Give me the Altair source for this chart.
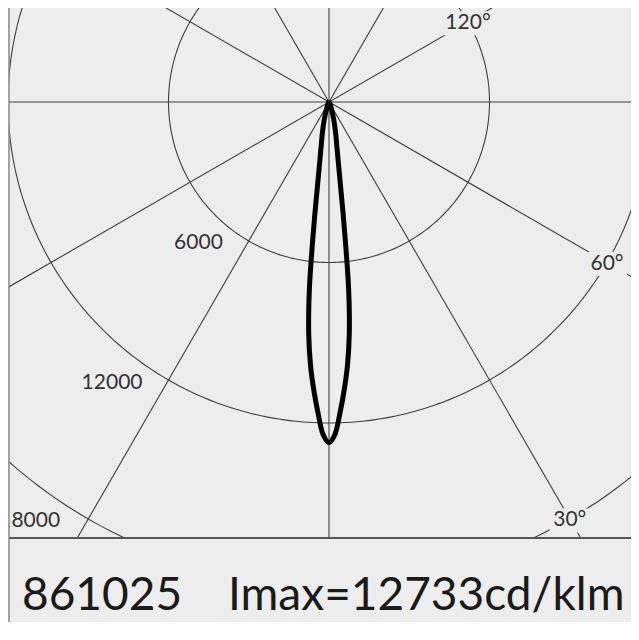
import altair as alt
import pandas as pd
import numpy as np

# ---- data ----
# luminous intensity (cd/klm) against angle from nadir (deg), symmetric beam
angles = [0, 1, 2, 3, 4, 5, 6, 7, 8, 9, 10, 12, 15, 20, 25, 30, 40, 50, 60, 90]
intensity = [12733, 12440, 11650, 10800, 9880, 8700, 7000, 4600, 2950, 2150,
             1700, 1200, 700, 250, 110, 60, 25, 12, 6, 0]

ring_values = [6000, 12000, 18000]
ring_labels = ["6000", "12000", "18000"]
ring_label_x = [-4880, -8110, -11190]
ring_label_y = [-5270, -10505, -15663]

ray_angles = [0, 30, 60, 90, 120, 150]

angle_labels = ["30°", "60°", "120°"]
angle_label_angles = [30, 60, 120]
angle_label_rings = [18000, 12000, 6000]
angle_box_halfwidth_px = [20, 20, 26]

footer_texts = ["861025", "Imax=12733cd/klm"]
footer_x_px = [13, 219]

# ---- geometry of the frame ----
W, H = 622, 530          # plot area in px
CX, CY = 320, 94         # pole position inside the plot area (px)
U = 6000 / 160.5         # cd per pixel
xdom = [-CX * U, (W - CX) * U]
ydom = [-(H - CY) * U, CY * U]
xs = alt.Scale(domain=xdom, nice=False, zero=False)
ys = alt.Scale(domain=ydom, nice=False, zero=False)

GRID = "#3f3f3f"
BG = "#ededed"

# curve (mirror both halves)
ang_full = [-a for a in angles[::-1]] + angles[1:]
int_full = intensity[::-1] + intensity[1:]
th = np.radians(ang_full)
curve = pd.DataFrame({
    "order": range(len(ang_full)),
    "x": np.array(int_full) * np.sin(th),
    "y": -np.array(int_full) * np.cos(th),
})

# rays
R = 40000
ra = np.radians(ray_angles)
rays = pd.DataFrame({
    "x": R * np.sin(ra), "y": -R * np.cos(ra),
    "x2": -R * np.sin(ra), "y2": R * np.cos(ra),
})

# rings
t = np.linspace(0, 2 * np.pi, 361)
rings = pd.concat([
    pd.DataFrame({"ring": r, "t": range(len(t)), "x": r * np.cos(t), "y": r * np.sin(t)})
    for r in ring_values
])

# angle labels
la = np.radians(angle_label_angles)
alab = pd.DataFrame({
    "text": angle_labels,
    "x": np.array(angle_label_rings) * np.sin(la),
    "y": -np.array(angle_label_rings) * np.cos(la) - 1.5 * U,
    "hw": np.array(angle_box_halfwidth_px) * U,
})
alab["x1"] = alab["x"] - alab["hw"]
alab["x2"] = alab["x"] + alab["hw"]
alab["y1"] = alab["y"] - 12 * U
alab["y2"] = alab["y"] + 12 * U

rlab = pd.DataFrame({"text": ring_labels, "x": ring_label_x, "y": ring_label_y})

footer = pd.DataFrame({"text": footer_texts, "px": footer_x_px})
one = pd.DataFrame({"a": [0]})

X = lambda f: alt.X(f, type="quantitative", scale=xs, axis=None)
Y = lambda f: alt.Y(f, type="quantitative", scale=ys, axis=None)

ray_layer = alt.Chart(rays).mark_rule(clip=True, color=GRID, strokeWidth=1.1).encode(
    x=X("x"), y=Y("y"), x2="x2", y2="y2")

ring_layer = alt.Chart(rings).mark_line(clip=True, color=GRID, strokeWidth=1.1).encode(
    x=X("x"), y=Y("y"), detail="ring:N", order="t:Q")

curve_layer = alt.Chart(curve).mark_line(
    clip=True, color="black", strokeWidth=5, strokeJoin="round",
    interpolate="catmull-rom").encode(
    x=X("x"), y=Y("y"), order="order:Q")

box_layer = alt.Chart(alab).mark_rect(fill=BG, clip=True).encode(
    x=X("x1"), x2="x2", y=Y("y1"), y2="y2")

alab_layer = alt.Chart(alab).mark_text(
    font="Lato", fontSize=21, color="#333333", clip=True, baseline="middle").encode(
    x=X("x"), y=Y("y"), text="text:N")

rlab_layer = alt.Chart(rlab).mark_text(
    font="Lato", fontSize=21, color="#333333", clip=True, baseline="middle").encode(
    x=X("x"), y=Y("y"), text="text:N")

sep_layer = alt.Chart(one).mark_rule(color="#555555", strokeWidth=2).encode(
    x=alt.value(0), x2=alt.value(W + 2), y=alt.value(H))

left_layer = alt.Chart(one).mark_rule(color="#8a8a8a", strokeWidth=1.5).encode(
    x=alt.value(0), y=alt.value(0), y2=alt.value(620))

footer_layer = alt.Chart(footer).mark_text(
    font="Lato", fontSize=46, color="#1a1a1a", align="left", baseline="alphabetic").encode(
    x=alt.X("px:Q", scale=None), y=alt.value(602), text="text:N")

chart = alt.layer(
    ring_layer, ray_layer, curve_layer, box_layer, alab_layer, rlab_layer,
    sep_layer, left_layer, footer_layer,
).properties(
    width=W, height=H,
    padding={"left": 1, "top": 0, "right": 0, "bottom": 84},
    autosize=alt.AutoSizeParams(type="none"),
    background=BG,
).configure_view(stroke=None)

chart.save("out.html", embed_options={"renderer": "svg", "actions": False})
